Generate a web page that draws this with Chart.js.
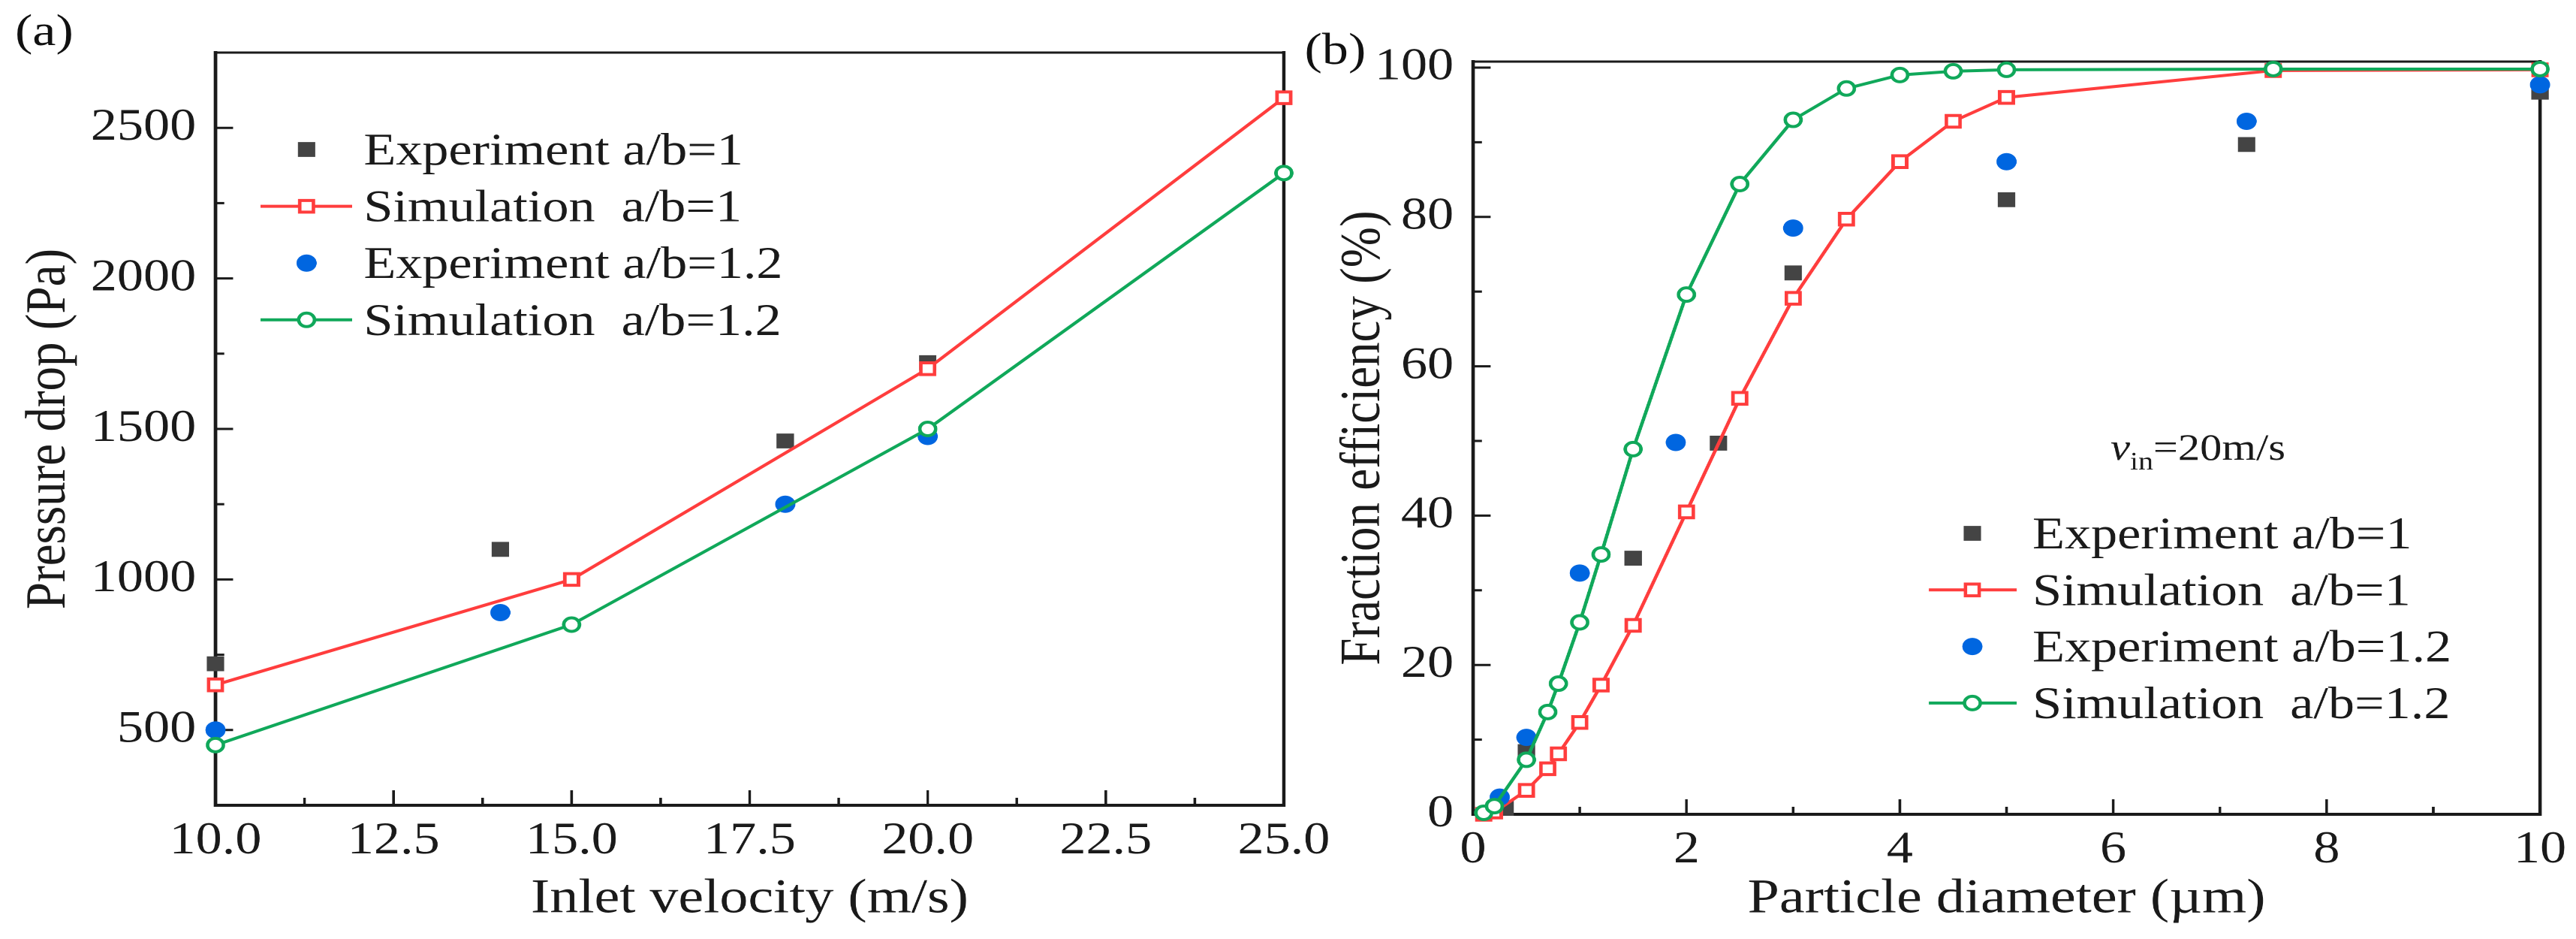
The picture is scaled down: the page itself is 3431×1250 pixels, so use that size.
<!DOCTYPE html>
<html>
<head>
<meta charset="utf-8">
<script src="https://cdn.jsdelivr.net/npm/chart.js@4.4.1/dist/chart.umd.min.js"></script>
<style>
  html, body { margin: 0; padding: 0; background: #fff; overflow: hidden; }
  /* the reference is a bit wider than tall, so the whole figure is stretched */
  #stage { position: absolute; left: 0; top: 0; width: 2933px; height: 1250px;
           transform: scaleX(1.17); transform-origin: 0 0; }
  #boxA { position: absolute; left: 0; top: 0; width: 1560px; height: 1250px; }
  #boxB { position: absolute; left: 1500px; top: 0; width: 1433px; height: 1250px; }
  .tag { position: absolute; font: 60px "Liberation Serif", serif; line-height: 60px; color: #111; }
</style>
</head>
<body>
<div id="stage">
  <div id="boxA"><canvas id="chartA" width="1560" height="1250"></canvas></div>
  <div id="boxB"><canvas id="chartB" width="1433" height="1250"></canvas></div>
  <div class="tag" style="left:17px; top:10px">(a)</div>
  <div class="tag" style="left:1485px; top:35px">(b)</div>
</div>
<script>
(function() {

    // (a) pressure drop vs inlet velocity
    const velExp = [10, 14, 18, 20]
    const dpExp1 = [720, 1100, 1460, 1720]
    const dpExp12 = [500, 890, 1250, 1475]
    const velSim = [10, 15, 20, 25]
    const dpSim1 = [650, 1000, 1700, 2600]
    const dpSim12 = [450, 850, 1500, 2350]

    // (b) fraction efficiency vs particle diameter
    const dSim = [0.1, 0.2, 0.5, 0.7, 0.8, 1, 1.2, 1.5, 2, 2.5, 3, 3.5, 4, 4.5, 5, 7.5, 10]
    const effSim1 = [0, 0.3, 3.2, 6.1, 8.1, 12.3, 17.3, 25.3, 40.5, 55.7, 69.1, 79.7, 87.4, 92.8, 96.0, 99.6, 99.7]
    const effSim12 = [0.2, 1.1, 7.3, 13.7, 17.5, 25.7, 34.8, 48.9, 69.6, 84.4, 93.0, 97.2, 99.0, 99.5, 99.7, 99.8, 99.8]
    const dExp1 = [0.3, 0.5, 1.5, 2.3, 3, 5, 7.25, 10]
    const effExp1 = [0.8, 8.4, 34.3, 49.7, 72.5, 82.3, 89.7, 96.7]
    const dExp12 = [0.25, 0.5, 1, 1.9, 3, 5, 7.25, 10]
    const effExp12 = [2.3, 10.3, 32.3, 49.8, 78.5, 87.4, 92.8, 97.7]

    const labels = ['Experiment a/b=1', 'Simulation  a/b=1', 'Experiment a/b=1.2', 'Simulation  a/b=1.2']

    const FONT = '"Liberation Serif", "Times New Roman", serif'
    const INK = '#1a1a1a'
    const GRAY = '#444444'
    const RED = '#ff3d3d'
    const BLUE = '#0066e0'
    const GREEN = '#10a85a'

    function pts(xs, ys) {
        return xs.map((x, i) => ({x: x, y: ys[i]}))
    }

    function isMajor(v, step) {
        return Math.abs(v / step - Math.round(v / step)) < 1e-6
    }

    // datasets in legend order, "order" decides who is drawn on top
    function makeSets(xE1, yE1, xS1, yS1, xE2, yE2, xS2, yS2) {
        return [
            {label: labels[0], data: pts(xE1, yE1), order: 4, showLine: false,
             pointStyle: 'rect', pointRadius: 14, pointBorderWidth: 0,
             pointBackgroundColor: GRAY, pointBorderColor: GRAY, clip: false},
            {label: labels[1], data: pts(xS1, yS1), order: 3, showLine: true,
             borderColor: RED, borderWidth: 4, tension: 0,
             pointStyle: 'rect', pointRadius: 11, pointBorderWidth: 4,
             pointBackgroundColor: '#fff', pointBorderColor: RED, clip: false},
            {label: labels[2], data: pts(xE2, yE2), order: 2, showLine: false,
             pointStyle: 'circle', pointRadius: 11.5, pointBorderWidth: 0,
             pointBackgroundColor: BLUE, pointBorderColor: BLUE, clip: false},
            {label: labels[3], data: pts(xS2, yS2), order: 1, showLine: true,
             borderColor: GREEN, borderWidth: 4, tension: 0,
             pointStyle: 'circle', pointRadius: 9, pointBorderWidth: 4,
             pointBackgroundColor: '#fff', pointBorderColor: GREEN, clip: false}
        ]
    }

    function drawMarker(ctx, ds, x, y) {
        ctx.save()
        ctx.fillStyle = ds.pointBackgroundColor
        ctx.strokeStyle = ds.pointBorderColor
        ctx.lineWidth = ds.pointBorderWidth
        const r = ds.pointRadius
        ctx.beginPath()
        if (ds.pointStyle === 'rect') {
            const s = r * Math.SQRT1_2
            ctx.rect(x - s, y - s, 2 * s, 2 * s)
        } else {
            ctx.arc(x, y, r, 0, Math.PI * 2)
        }
        ctx.fill()
        if (ds.pointBorderWidth > 0) ctx.stroke()
        ctx.restore()
    }

    // inward Origin-style ticks plus the closed frame
    const frame = {
        id: 'frame',
        beforeDatasetsDraw(chart, args, o) {
            const ctx = chart.ctx
            const a = chart.chartArea
            const xs = chart.scales.x
            const ys = chart.scales.y
            ctx.save()
            ctx.strokeStyle = INK
            ctx.lineWidth = 3
            xs.ticks.forEach(t => {
                const px = xs.getPixelForValue(t.value)
                const len = isMajor(t.value, o.xMajor) ? 20 : 10
                ctx.beginPath()
                ctx.moveTo(px, a.bottom)
                ctx.lineTo(px, a.bottom - len)
                ctx.stroke()
            })
            ys.ticks.forEach(t => {
                const py = ys.getPixelForValue(t.value)
                const len = isMajor(t.value, o.yMajor) ? 20 : 10
                ctx.beginPath()
                ctx.moveTo(a.left, py)
                ctx.lineTo(a.left + len, py)
                ctx.stroke()
            })
            ctx.lineCap = 'square'
            ctx.lineWidth = 3
            ctx.beginPath()
            ctx.moveTo(a.left, a.top)
            ctx.lineTo(a.right, a.top)
            ctx.stroke()
            ctx.lineWidth = 4
            ctx.beginPath()
            ctx.moveTo(a.right, a.top)
            ctx.lineTo(a.right, a.bottom)
            ctx.lineTo(a.left, a.bottom)
            ctx.lineTo(a.left, a.top)
            ctx.stroke()
            ctx.restore()
        }
    }

    const boxLegend = {
        id: 'boxLegend',
        afterDatasetsDraw(chart, args, o) {
            const ctx = chart.ctx
            ctx.save()
            ctx.font = '60px ' + FONT
            ctx.fillStyle = INK
            ctx.textAlign = 'left'
            ctx.textBaseline = 'alphabetic'
            chart.data.datasets.forEach((ds, i) => {
                const y = o.top + i * o.row
                if (ds.showLine) {
                    ctx.strokeStyle = ds.borderColor
                    ctx.lineWidth = ds.borderWidth
                    ctx.beginPath()
                    ctx.moveTo(o.lineX0, y)
                    ctx.lineTo(o.lineX1, y)
                    ctx.stroke()
                }
                drawMarker(ctx, ds, o.markX, y)
                ctx.fillStyle = INK
                ctx.fillText(ds.label, o.textX, y + 20)
            })
            ctx.restore()
        }
    }

    const note = {
        id: 'note',
        afterDraw(chart, args, o) {
            if (!o.show) return
            const ctx = chart.ctx
            ctx.save()
            ctx.fillStyle = INK
            ctx.textBaseline = 'alphabetic'
            let x = o.x
            ctx.font = 'italic 50px ' + FONT
            ctx.fillText('v', x, o.y)
            x += ctx.measureText('v').width
            ctx.font = '34px ' + FONT
            ctx.fillText('in', x, o.y + 13)
            x += ctx.measureText('in').width
            ctx.font = '50px ' + FONT
            ctx.fillText('=20m/s', x, o.y)
            ctx.restore()
        }
    }

    function scales(cfg) {
        return {
            x: {
                type: 'linear', min: cfg.xMin, max: cfg.xMax,
                grid: {display: false, drawTicks: false},
                border: {display: false},
                ticks: {
                    stepSize: cfg.xStep, autoSkip: false, maxRotation: 0, minRotation: 0,
                    includeBounds: false, padding: 12, color: INK,
                    font: {family: FONT, size: 60},
                    callback: v => isMajor(v, cfg.xMajor) ? cfg.xFmt(v) : ''
                },
                title: {display: true, text: cfg.xTitle, color: INK,
                        font: {family: FONT, size: 65, lineHeight: 1},
                        padding: {top: 0, bottom: 20}},
                afterFit: s => { s.height = cfg.xHeight; s.paddingLeft = 0; s.paddingRight = 0 }
            },
            y: {
                type: 'linear', min: cfg.yMin, max: cfg.yMax,
                grid: {display: false, drawTicks: false},
                border: {display: false},
                ticks: {
                    stepSize: cfg.yStep, autoSkip: false, includeBounds: false,
                    padding: 22, color: INK,
                    font: {family: FONT, size: 60},
                    callback: v => isMajor(v, cfg.yMajor) ? String(v) : ''
                },
                title: {display: true, text: cfg.yTitle, color: INK,
                        font: {family: FONT, size: 65, lineHeight: 1},
                        padding: {top: cfg.yTitlePad, bottom: 0}},
                afterFit: s => { s.width = cfg.yWidth; s.paddingTop = 0; s.paddingBottom = 0 }
            }
        }
    }

    function drawChart(id, sets, cfg) {
        const ctx = document.getElementById(id).getContext('2d')
        return new Chart(ctx, {
            type: 'scatter',
            data: {datasets: sets},
            options: {
                responsive: false,
                devicePixelRatio: 2,
                animation: false,
                layout: {padding: cfg.pad},
                scales: scales(cfg),
                plugins: {
                    legend: {display: false},
                    tooltip: {enabled: false},
                    frame: {xMajor: cfg.xMajor, yMajor: cfg.yMajor},
                    boxLegend: cfg.legend,
                    note: cfg.note
                }
            },
            plugins: [frame, boxLegend, note]
        })
    }

    drawChart('chartA',
        makeSets(velExp, dpExp1, velSim, dpSim1, velExp, dpExp12, velSim, dpSim12),
        {
            xMin: 10, xMax: 25, xStep: 1.25, xMajor: 2.5, xFmt: v => v.toFixed(1),
            yMin: 250, yMax: 2750, yStep: 250, yMajor: 500,
            xTitle: 'Inlet velocity (m/s)', yTitle: 'Pressure drop (Pa)',
            xHeight: 178, yWidth: 245.3, yTitlePad: 24,
            pad: {left: 0, top: 70, right: 98.5, bottom: 0},
            legend: {top: 199, row: 75.6, lineX0: 296.5, lineX1: 401, markX: 349, textX: 414},
            note: {show: false}
        })

    drawChart('chartB',
        makeSets(dExp1, effExp1, dSim, effSim1, dExp12, effExp12, dSim, effSim12),
        {
            xMin: 0, xMax: 10, xStep: 1, xMajor: 2, xFmt: v => String(v),
            yMin: 0, yMax: 100.8, yStep: 10, yMajor: 20,
            xTitle: 'Particle diameter (\u00b5m)', yTitle: 'Fraction efficiency (%)',
            xHeight: 166, yWidth: 176.9, yTitlePad: 20.5,
            pad: {left: 0, top: 82, right: 41.5, bottom: 0},
            legend: {top: 710, row: 75.3, lineX0: 695.7, lineX1: 795.7, markX: 745.3, textX: 813.7},
            note: {show: true, x: 902.6, y: 612}
        })

}())
</script>
</body>
</html>
